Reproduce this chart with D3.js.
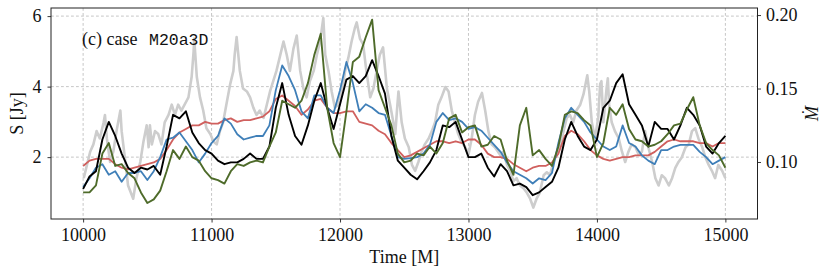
<!DOCTYPE html>
<html>
<head>
<meta charset="utf-8">
<script src="https://cdn.jsdelivr.net/npm/d3@7"></script>
<style>
  body { margin: 0; background: #fff; }
  svg text { font-family: "Liberation Serif", "Times New Roman", serif; }
</style>
</head>
<body>
<div id="chart"></div>
<script>
"use strict";

// sample times of the flux curves [M]
const times = [
  10000, 10050, 10100, 10150, 10200, 10250, 10300, 10350, 10400, 10450, 10500, 10550, 10600, 10650, 10700, 10750, 10800,
  10850, 10900, 10950, 11000, 11050, 11100, 11150, 11200, 11250, 11300, 11350, 11400, 11450, 11500, 11550, 11600, 11650,
  11700, 11750, 11800, 11850, 11900, 11950, 12000, 12050, 12100, 12150, 12200, 12250, 12300, 12350, 12400, 12450,
  12500, 12550, 12600, 12650, 12700, 12750, 12800, 12850, 12900, 12950, 13000, 13050, 13100, 13150, 13200, 13250,
  13300, 13350, 13400, 13450, 13500, 13550, 13600, 13650, 13700, 13750, 13800, 13850, 13900, 13950, 14000, 14050, 14100,
  14150, 14200, 14250, 14300, 14350, 14400, 14450, 14500, 14550, 14600, 14650, 14700, 14750, 14800, 14850, 14900, 14950, 15000
];

// flux S [Jy]
const fluxBlack = [
  1.1, 1.45, 1.6, 2.5, 3.0, 2.6, 2.1, 1.7, 1.55, 1.7, 1.65, 1.75, 1.5, 2.3, 3.2, 3.1, 3.3,
  2.7, 2.4, 2.2, 2.1, 1.9, 1.8, 1.85, 1.85, 1.95, 2.1, 1.95, 1.95, 2.3, 3.4, 4.1, 3.2, 2.6,
  2.35, 2.9, 3.6, 4.1, 3.4, 2.8, 3.5, 4.2, 4.3, 4.1, 4.3, 4.75, 4.3, 3.8, 2.6, 1.9,
  1.7, 1.5, 1.37, 1.6, 1.85, 2.2, 2.9, 2.85, 3.0, 2.5, 2.0, 2.0, 2.1, 1.7, 1.45, 1.8,
  1.6, 1.2, 1.25, 1.15, 0.92, 1.0, 1.15, 1.3, 1.7, 2.5, 3.0, 2.6, 2.3, 2.2, 2.5, 3.4, 3.6,
  4.1, 4.35, 3.5, 3.2, 2.9, 2.3, 3.0, 2.8, 2.8, 2.5, 2.9, 3.4, 3.2, 2.9, 2.3, 2.1, 2.4, 2.6
];
const fluxRed = [
  1.75, 1.9, 1.95, 1.95, 1.95, 1.8, 1.7, 1.65, 1.7, 1.75, 1.8, 1.85, 1.95, 2.2, 2.5, 2.7, 2.8,
  2.9, 2.9, 3.0, 2.95, 2.95, 3.05, 3.1, 3.0, 3.05, 3.05, 3.1, 3.15, 3.3, 3.65, 3.75, 3.6, 3.45,
  3.2, 3.35, 3.6, 3.65, 3.4, 3.25, 3.25, 3.3, 3.3, 3.0, 2.95, 2.9, 2.75, 2.65, 2.4, 2.2,
  2.0, 2.05, 2.15, 2.25, 2.35, 2.45, 2.45, 2.4, 2.45, 2.4, 2.5, 2.5, 2.35, 2.1, 2.0, 2.0,
  1.95, 1.8, 1.7, 1.6, 1.7, 1.75, 1.75, 1.85, 2.1, 2.6, 2.75, 2.65, 2.45, 2.2, 2.05, 1.95, 1.9,
  1.95, 2.0, 2.0, 2.05, 2.05, 2.05, 2.15, 2.3, 2.45, 2.5, 2.45, 2.45, 2.45, 2.4, 2.4, 2.3, 2.4, 2.4
];
const fluxBlue = [
  1.15, 1.4, 1.7, 1.8, 1.5, 1.6, 1.3, 1.55, 1.55, 1.6, 1.35, 1.6, 2.0, 2.5, 2.55, 2.7, 2.45,
  2.2, 1.85, 2.1, 2.4, 2.6, 3.1, 2.95, 2.65, 2.5, 2.55, 2.6, 2.6, 2.9, 3.9, 4.6, 4.3, 3.9,
  3.3, 3.1, 3.75, 3.75, 3.4, 3.25, 3.9, 4.7, 4.1, 3.3, 3.5, 3.4, 3.25, 3.2, 2.6, 2.0,
  1.95, 1.97, 2.0, 2.1, 2.35, 3.0, 3.25, 3.05, 3.1, 3.0, 2.8, 2.85, 2.75, 2.55, 2.35, 2.15,
  1.85, 1.6, 1.5, 1.4, 1.25, 1.4, 1.35, 1.55, 2.4, 3.1, 3.4, 3.2, 3.0, 2.7, 2.5, 2.3, 2.2,
  2.3, 2.9, 2.4, 2.3, 2.05, 1.9, 1.8, 2.2, 2.2, 2.3, 2.35, 2.35, 2.35, 2.15, 2.0, 1.8, 1.9, 2.0
];
const fluxGreen = [
  1.0, 1.0, 1.2, 2.1, 2.4, 1.75, 1.8, 1.55, 1.4, 1.0, 0.7, 0.8, 1.05, 1.6, 2.2, 1.95, 2.3,
  2.0, 1.9, 1.6, 1.4, 1.35, 1.25, 1.6, 1.8, 1.75, 1.85, 1.9, 1.85, 2.3, 2.7, 3.6, 3.5, 3.4,
  3.6, 4.1, 4.9, 5.5, 3.4, 2.4, 2.0, 3.3, 4.7, 4.85, 5.4, 5.9, 3.9, 3.4, 2.9, 2.1,
  1.85, 1.9, 2.1, 2.05, 2.3, 2.1, 2.4, 3.1, 3.2, 2.7, 2.85, 2.9, 2.3, 2.35, 2.6, 2.5,
  1.9, 1.5, 2.9, 3.4, 2.05, 2.2, 1.95, 1.75, 2.3, 3.2, 3.3, 3.25, 3.05, 2.9, 2.0, 2.4, 3.4,
  3.2, 3.5, 2.8, 2.5, 2.45, 2.3, 2.35, 2.45, 2.65, 2.9, 2.95, 3.35, 3.7, 2.9, 2.4, 2.2, 2.05, 1.7
];

// accretion rate (right axis)
const mdotTime = [
  10005, 10030, 10055, 10080, 10105, 10130, 10160, 10170, 10185, 10210, 10235, 10260, 10290, 10300, 10325, 10350,
  10390, 10415, 10445, 10470, 10495, 10510, 10520, 10535, 10560, 10585, 10610, 10635, 10665, 10690, 10715, 10740,
  10765, 10790, 10820, 10845, 10860, 10865, 10885, 10910, 10935, 10960, 10990, 11015, 11040, 11065, 11090, 11115,
  11145, 11170, 11180, 11195, 11220, 11245, 11275, 11300, 11325, 11350, 11375, 11405, 11430, 11455, 11480, 11505,
  11530, 11560, 11585, 11610, 11637, 11663, 11690, 11715, 11740, 11765, 11795, 11820, 11845, 11870, 11885, 11910,
  11935, 11960, 11985, 12015, 12040, 12065, 12090, 12115, 12130, 12155, 12180, 12205, 12235, 12260, 12285, 12310,
  12335, 12365, 12390, 12415, 12430, 12445, 12455, 12480, 12505, 12535, 12560, 12585, 12610, 12635, 12660, 12690,
  12715, 12740, 12765, 12790, 12820, 12845, 12870, 12895, 12920, 12945, 12975, 13000, 13025, 13050, 13075, 13105,
  13130, 13155, 13180, 13205, 13230, 13260, 13270, 13300, 13325, 13350, 13375, 13400, 13430, 13455, 13480, 13505,
  13530, 13555, 13585, 13610, 13635, 13660, 13685, 13715, 13740, 13765, 13790, 13815, 13840, 13870, 13895, 13925,
  13940, 13960, 13985, 14010, 14025, 14035, 14050, 14075, 14085, 14095, 14115, 14140, 14170, 14195, 14220, 14245,
  14270, 14300, 14325, 14350, 14375, 14400, 14430, 14455, 14480, 14505, 14530, 14560, 14585, 14610, 14635, 14660,
  14690, 14715, 14740, 14765, 14790, 14820, 14845, 14870, 14895, 14920, 14945, 14975, 15000
];
const mdotGray = [
  0.089, 0.098, 0.107, 0.112, 0.121, 0.116, 0.127, 0.132, 0.116, 0.100, 0.107, 0.121, 0.135, 0.121, 0.103, 0.084,
  0.075, 0.089, 0.100, 0.114, 0.125, 0.110, 0.125, 0.112, 0.121, 0.119, 0.112, 0.127, 0.132, 0.139, 0.132, 0.139,
  0.135, 0.139, 0.144, 0.158, 0.175, 0.184, 0.158, 0.144, 0.135, 0.123, 0.119, 0.114, 0.112, 0.121, 0.127, 0.139,
  0.153, 0.162, 0.173, 0.185, 0.162, 0.150, 0.148, 0.144, 0.137, 0.132, 0.135, 0.130, 0.139, 0.148, 0.155, 0.162,
  0.171, 0.182, 0.173, 0.162, 0.177, 0.186, 0.162, 0.150, 0.144, 0.155, 0.162, 0.173, 0.182, 0.198, 0.173, 0.162,
  0.148, 0.137, 0.139, 0.148, 0.162, 0.171, 0.182, 0.191, 0.195, 0.184, 0.180, 0.162, 0.144, 0.150, 0.162, 0.173,
  0.178, 0.150, 0.139, 0.127, 0.119, 0.137, 0.148, 0.127, 0.116, 0.110, 0.098, 0.094, 0.100, 0.107, 0.112, 0.116,
  0.121, 0.127, 0.139, 0.144, 0.151, 0.148, 0.135, 0.127, 0.119, 0.114, 0.110, 0.105, 0.116, 0.132, 0.141, 0.147,
  0.135, 0.121, 0.112, 0.110, 0.107, 0.103, 0.107, 0.098, 0.094, 0.087, 0.089, 0.084, 0.082, 0.079, 0.075, 0.069,
  0.075, 0.079, 0.091, 0.093, 0.091, 0.100, 0.105, 0.112, 0.121, 0.130, 0.132, 0.127, 0.135, 0.139, 0.146, 0.159,
  0.148, 0.127, 0.116, 0.130, 0.153, 0.155, 0.127, 0.150, 0.157, 0.139, 0.127, 0.121, 0.116, 0.107, 0.100, 0.107,
  0.112, 0.110, 0.105, 0.107, 0.121, 0.110, 0.100, 0.089, 0.084, 0.091, 0.089, 0.084, 0.089, 0.096, 0.100, 0.103,
  0.110, 0.112, 0.121, 0.123, 0.116, 0.110, 0.103, 0.098, 0.094, 0.089, 0.098, 0.094, 0.089
];

const xTicks = [10000, 11000, 12000, 13000, 14000, 15000];
const leftTicks = [2, 4, 6];
const rightTicks = [0.10, 0.15, 0.20];

///////////////////////////
// canvas
///////////////////////////
const W = 831, H = 278;
const margin = { top: 8, right: 73.5, bottom: 59, left: 51 };
const plotW = W - margin.left - margin.right,
  plotH = H - margin.top - margin.bottom;
const serif = '"Liberation Serif", "Times New Roman", serif';

const svg = d3
  .select("#chart")
  .append("svg")
  .attr("width", W)
  .attr("height", H)
  .style("background", "#fff");

const g = svg
  .append("g")
  .attr("transform", `translate(${margin.left},${margin.top})`);

const x = d3.scaleLinear().domain([9750, 15250]).range([0, plotW]);
const yL = d3.scaleLinear().domain([0.245, 6.23]).range([plotH, 0]);
const yR = d3.scaleLinear().domain([0.0612, 0.2048]).range([plotH, 0]);

///////////////////////////
// grid
///////////////////////////
const grid = g.append("g").attr("class", "grid");
grid
  .selectAll("line.vx")
  .data(xTicks)
  .enter()
  .append("line")
  .attr("x1", (d) => x(d))
  .attr("x2", (d) => x(d))
  .attr("y1", 0)
  .attr("y2", plotH);
grid
  .selectAll("line.hy")
  .data(leftTicks)
  .enter()
  .append("line")
  .attr("x1", 0)
  .attr("x2", plotW)
  .attr("y1", (d) => yL(d))
  .attr("y2", (d) => yL(d));
grid
  .selectAll("line")
  .attr("stroke", "#b8b8b8")
  .attr("stroke-width", 0.8)
  .attr("stroke-dasharray", "2.8,2.2");

///////////////////////////
// lines
///////////////////////////
const plot = g.append("g");

plot
  .append("path")
  .datum(d3.zip(mdotTime, mdotGray))
  .attr("fill", "none")
  .attr("stroke", "#cdcdcd")
  .attr("stroke-width", 2.6)
  .attr("stroke-linejoin", "round")
  .attr("d", d3.line().x((d) => x(d[0])).y((d) => yR(d[1])));

const fluxLine = d3.line().x((d) => x(d[0])).y((d) => yL(d[1]));
const series = [
  { vals: fluxRed, color: "#d0605e", w: 1.8 },
  { vals: fluxBlue, color: "#3f7fb8", w: 1.8 },
  { vals: fluxBlack, color: "#000000", w: 1.9 },
  { vals: fluxGreen, color: "#4e6b2a", w: 1.9 },
];
series.forEach((s) => {
  plot
    .append("path")
    .datum(d3.zip(times, s.vals))
    .attr("fill", "none")
    .attr("stroke", s.color)
    .attr("stroke-width", s.w)
    .attr("stroke-linejoin", "round")
    .attr("d", fluxLine);
});

///////////////////////////
// axes
///////////////////////////
const fontSize = "18px";

const xAxis = g
  .append("g")
  .attr("transform", `translate(0,${plotH})`)
  .call(d3.axisBottom(x).tickValues(xTicks).tickFormat(d3.format("d")).tickSize(3.5).tickSizeOuter(0).tickPadding(6));
const yAxisL = g
  .append("g")
  .call(d3.axisLeft(yL).tickValues(leftTicks).tickFormat(d3.format("d")).tickSize(3.5).tickSizeOuter(0).tickPadding(6));
const yAxisR = g
  .append("g")
  .attr("transform", `translate(${plotW},0)`)
  .call(d3.axisRight(yR).tickValues(rightTicks).tickFormat(d3.format(".2f")).tickSize(3.5).tickSizeOuter(0).tickPadding(5));

[xAxis, yAxisL, yAxisR].forEach((a) => {
  a.attr("font-family", serif).attr("font-size", 18);
  a.select(".domain").remove();
  a.selectAll(".tick line").attr("stroke", "#222").attr("stroke-width", 0.9);
  a.selectAll(".tick text")
    .attr("fill", "#111")
    .attr("font-family", serif)
    .style("font-family", serif)
    .style("font-size", fontSize);
});

// frame
g.append("rect")
  .attr("x", 0)
  .attr("y", 0)
  .attr("width", plotW)
  .attr("height", plotH)
  .attr("fill", "none")
  .attr("stroke", "#222")
  .attr("stroke-width", 1);

///////////////////////////
// labels
///////////////////////////
svg
  .append("text")
  .attr("x", margin.left + plotW / 2)
  .attr("y", 263)
  .attr("text-anchor", "middle")
  .style("font-family", serif)
  .style("font-size", fontSize)
  .attr("fill", "#111")
  .text("Time [M]");

svg
  .append("text")
  .attr("transform", `translate(23,${margin.top + plotH / 2}) rotate(-90)`)
  .attr("text-anchor", "middle")
  .style("font-family", serif)
  .style("font-size", fontSize)
  .attr("fill", "#111")
  .text("S [Jy]");

svg
  .append("text")
  .attr("transform", `translate(818,${margin.top + plotH / 2}) rotate(-90)`)
  .attr("text-anchor", "middle")
  .style("font-family", serif)
  .style("font-size", fontSize)
  .style("font-style", "italic")
  .attr("fill", "#111")
  .text("\u1E40");

const note = svg
  .append("text")
  .attr("x", 82)
  .attr("y", 45)
  .style("font-family", serif)
  .style("font-size", "18px")
  .attr("fill", "#111");
note.append("tspan").style("font-family", serif).text("(c) case ");
note
  .append("tspan")
  .attr("x", 149)
  .style("font-family", '"Liberation Mono", "DejaVu Sans Mono", monospace')
  .style("font-size", "16.5px")
  .text("M20a3D");
</script>
</body>
</html>
